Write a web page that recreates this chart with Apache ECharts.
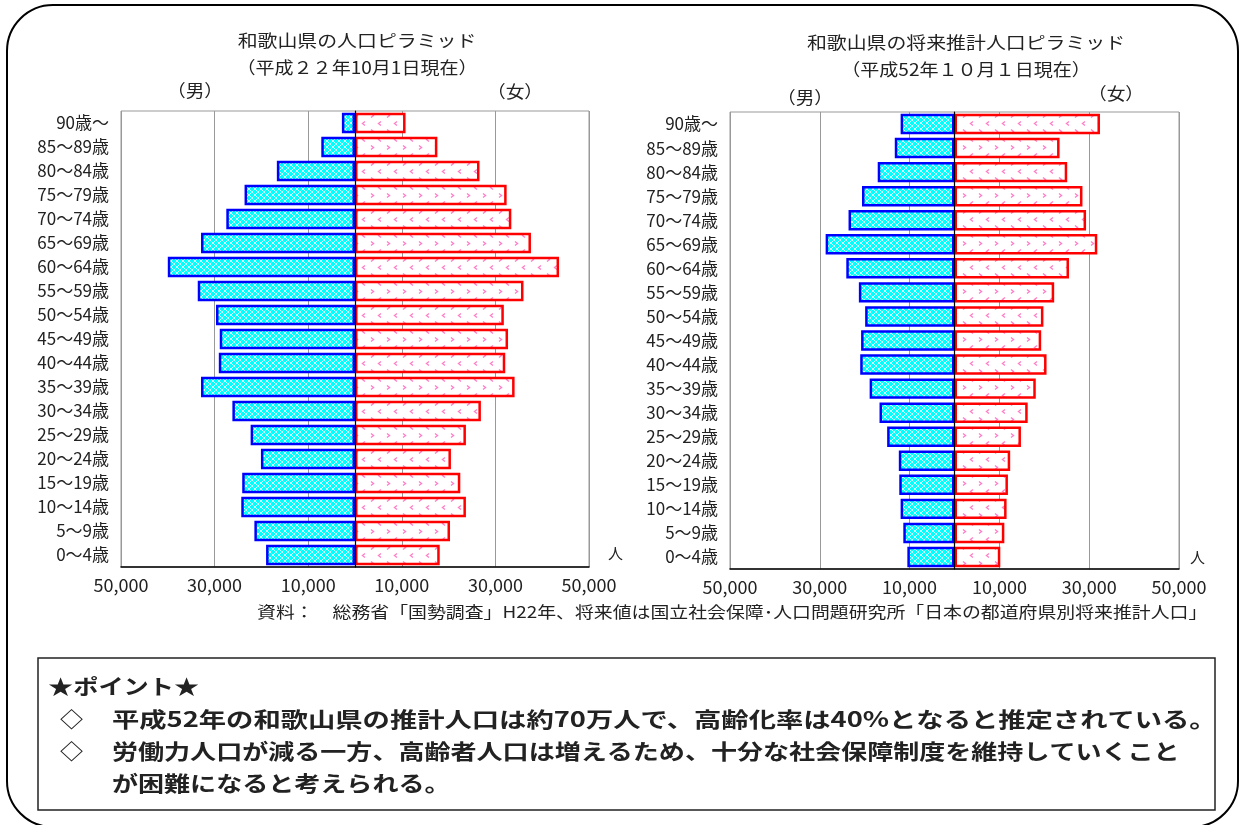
<!DOCTYPE html>
<html>
<head>
<meta charset="utf-8">
<title>和歌山県の人口ピラミッド</title>
<script src="https://cdn.jsdelivr.net/npm/echarts@6/dist/echarts.min.js"></script>
<style>
  html, body { margin: 0; padding: 0; background: #fff; }
  #main { width: 1244px; height: 825px; }
</style>
</head>
<body>
<div id="main"></div>
<script>
// 年齢階級（上から）
var ageLabels = ['90歳～', '85～89歳', '80～84歳', '75～79歳', '70～74歳', '65～69歳', '60～64歳',
    '55～59歳', '50～54歳', '45～49歳', '40～44歳', '35～39歳', '30～34歳', '25～29歳',
    '20～24歳', '15～19歳', '10～14歳', '5～9歳', '0～4歳'];

// 平成22年（人）
var male22 = [2800, 7200, 16700, 23600, 27500, 32900, 40000, 33600, 29700, 28900,
    29100, 32900, 26200, 22300, 20100, 24100, 24300, 21500, 19000];
var female22 = [10800, 17600, 26600, 32400, 33400, 37600, 43600, 36000, 31800, 32700,
    32100, 34100, 26900, 23700, 20500, 22500, 23700, 20300, 18100];

// 平成52年 推計（人）
var male52 = [12000, 13300, 17100, 20600, 23600, 28700, 24100, 21300, 19900, 20800,
    21000, 18900, 16700, 15000, 12400, 12300, 12000, 11400, 10500];
var female52 = [32400, 23400, 25100, 28500, 29300, 31800, 25500, 22200, 19800, 19300,
    20500, 18100, 16300, 14800, 12400, 11900, 11600, 11100, 10200];

var FONT = '"Noto Sans CJK JP", "Noto Sans", sans-serif';

// 男：水色の網目模様
function makeMaleTile() {
    var c = document.createElement('canvas');
    c.width = 6; c.height = 6;
    var ctx = c.getContext('2d');
    ctx.fillStyle = '#00ffff';
    ctx.fillRect(0, 0, 6, 6);
    ctx.fillStyle = 'rgba(255,255,255,0.8)';
    for (var i = 0; i < 6; i++) {
        ctx.fillRect(i, i, 1, 1);
        ctx.fillRect(5 - i, i, 1, 1);
    }
    return c;
}
// 女：白地にピンクの「＞」「＜」（互い違い）
function makeFemaleTile() {
    var c = document.createElement('canvas');
    c.width = 16; c.height = 16;
    var ctx = c.getContext('2d');
    ctx.fillStyle = '#ffffff';
    ctx.fillRect(0, 0, 16, 16);
    ctx.strokeStyle = '#ff80c8';
    ctx.lineWidth = 1.4;
    ctx.beginPath();
    ctx.moveTo(3, 1.5); ctx.lineTo(5.5, 3.5); ctx.lineTo(3, 5.5);
    ctx.moveTo(13, 9.5); ctx.lineTo(10.5, 11.5); ctx.lineTo(13, 13.5);
    ctx.stroke();
    return c;
}
var malePattern = { image: makeMaleTile(), repeat: 'repeat' };
var femalePattern = { image: makeFemaleTile(), repeat: 'repeat' };

function neg(arr) {
    return arr.map(function (v) { return -v; });
}

function axisPair(idx) {
    return {
        x: {
            type: 'value', gridIndex: idx, min: -50000, max: 50000, interval: 20000,
            axisLine: { show: true, onZero: false, lineStyle: { color: '#000', width: 1.5 } },
            axisTick: { show: false },
            splitLine: { show: true, lineStyle: { color: '#999', width: 1 } },
            axisLabel: {
                margin: 9, color: '#222', fontSize: 18, fontFamily: FONT,
                formatter: function (v) { return Math.abs(v).toLocaleString('en-US'); }
            }
        },
        y: {
            type: 'category', gridIndex: idx, inverse: true, data: ageLabels, z: 10,
            position: 'left',
            axisLine: { show: true, onZero: true, lineStyle: { color: '#000', width: 1.2 } },
            axisTick: { show: false },
            axisLabel: { margin: 12, color: '#222', fontSize: 17, fontFamily: FONT }
        }
    };
}
var a0 = axisPair(0), a1 = axisPair(1);

function barSeries(name, data, idx, isMale) {
    return {
        name: name,
        type: 'bar',
        xAxisIndex: idx,
        yAxisIndex: idx,
        data: isMale ? neg(data) : data,
        barGap: '-100%',
        barCategoryGap: '15%',
        itemStyle: {
            color: isMale ? malePattern : femalePattern,
            borderColor: isMale ? '#0000ff' : '#ff0000',
            borderWidth: 2.5
        }
    };
}

function txt(x, y, s, size, sx, align, weight) {
    return {
        type: 'text', x: x, y: y, scaleX: sx || 1, z: 20,
        style: {
            text: s, fill: '#222', fontSize: size, fontFamily: FONT,
            fontWeight: weight || 'normal',
            textAlign: align || 'center', textVerticalAlign: 'middle'
        }
    };
}

var myChart = echarts.init(document.getElementById('main'));

var option = {
    animation: false,
    backgroundColor: '#fff',
    grid: [
        { left: 121, top: 111, width: 468, height: 456, show: true, borderColor: '#999', borderWidth: 1 },
        { left: 730, top: 112, width: 449, height: 457, show: true, borderColor: '#999', borderWidth: 1 }
    ],
    xAxis: [a0.x, a1.x],
    yAxis: [a0.y, a1.y],
    series: [
        barSeries('男', male22, 0, true),
        barSeries('女', female22, 0, false),
        barSeries('男', male52, 1, true),
        barSeries('女', female52, 1, false)
    ],
    graphic: [
        // 外枠（角丸）
        {
            type: 'rect', z: 1,
            shape: { x: 7, y: 5, width: 1231, height: 822, r: 46 },
            style: { fill: 'none', stroke: '#000', lineWidth: 2 }
        },
        // タイトル
        txt(357, 41, '和歌山県の人口ピラミッド', 17, 1.17),
        txt(357, 68, '（平成２２年10月1日現在）', 17, 1.12),
        txt(966, 43, '和歌山県の将来推計人口ピラミッド', 17, 1.17),
        txt(966, 70, '（平成52年１０月１日現在）', 17, 1.12),
        txt(195, 91, '（男）', 17, 1.1),
        txt(515, 92, '（女）', 17, 1.1),
        txt(805, 98, '（男）', 17, 1.1),
        txt(1116, 94, '（女）', 17, 1.1),
        txt(608, 553, '人', 15, 1, 'left'),
        txt(1190, 557, '人', 15, 1, 'left'),
        // 資料
        txt(257, 612, '資料：　総務省「国勢調査」H22年、将来値は国立社会保障･人口問題研究所「日本の都道府県別将来推計人口」', 16, 1.18, 'left'),
        // ポイント枠
        {
            type: 'rect', z: 1,
            shape: { x: 38, y: 658, width: 1177, height: 152 },
            style: { fill: 'none', stroke: '#222', lineWidth: 1.5 }
        },
        txt(48, 686, '★ポイント★', 21, 1.2, 'left', 'bold'),
        txt(60, 719, '◇', 21, 1.1, 'left', 'bold'),
        txt(112, 719, '平成52年の和歌山県の推計人口は約70万人で、高齢化率は40%となると推定されている。', 21, 1.3, 'left', 'bold'),
        txt(60, 751, '◇', 21, 1.1, 'left', 'bold'),
        txt(112, 751, '労働力人口が減る一方、高齢者人口は増えるため、十分な社会保障制度を維持していくこと', 21, 1.24, 'left', 'bold'),
        txt(112, 783, 'が困難になると考えられる。', 21, 1.24, 'left', 'bold')
    ]
};

myChart.setOption(option);
</script>
</body>
</html>
